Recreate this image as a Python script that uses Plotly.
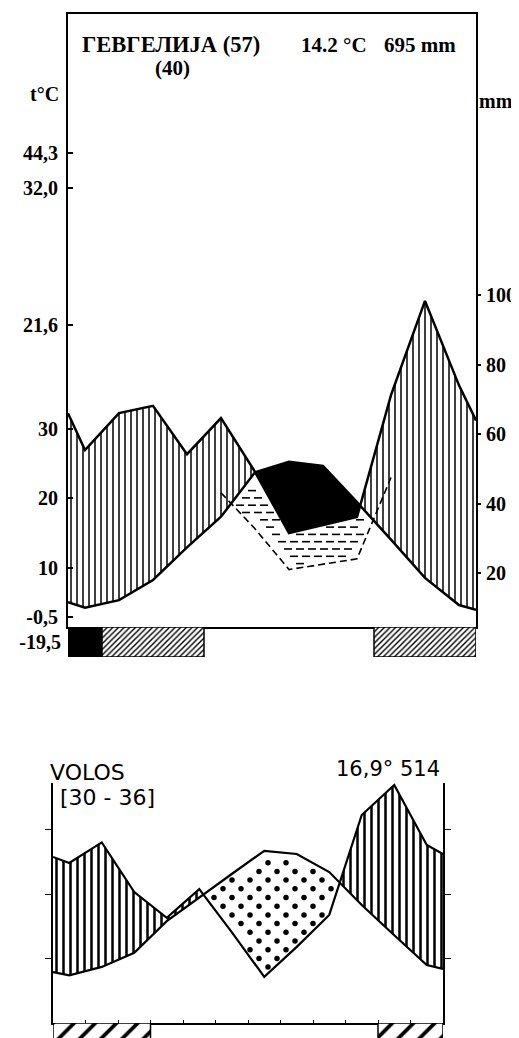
import numpy as np
import plotly.graph_objects as go

# ---------------- data ----------------
# Gevgelija
gev_temp = [4.2, 5.3, 8.2, 12.9, 17.3, 23.7, 25.2, 24.6, 19.4, 14.0, 8.5, 4.6]   # deg C, Jan..Dec
gev_temp_ends = [5.0, 3.9]          # curve value at left / right frame
gev_prec = [55.4, 66.0, 68.1, 54.2, 64.6, 49.1, 31.5, 33.8, 36.1, 71.2, 98.3, 74.0]  # mm
gev_prec_ends = [66.0, 63.9]
gev_frost = [2, 1, 1, 1, 0, 0, 0, 0, 0, 1, 1, 1]   # 2 = absolute frost month, 1 = frost possible
gev_left_labels = ["44,3", "32,0", "21,6", "30", "20", "10", "-0,5"]
gev_strip_label = "-19,5"
gev_right_ticks = [20, 40, 60, 80, 100]
gev_title = "ГЕВГЕЛИЈА (57)"
gev_years = "(40)"
gev_mean_t = "14.2 °C"
gev_sum_p = "695 mm"

# Volos
vol_temp = [7.4, 8.7, 10.9, 15.8, 19.5, 23.1, 26.7, 26.2, 23.4, 18.3, 13.6, 9.0]
vol_temp_ends = [7.9, 8.4]
vol_prec = [49.6, 56.0, 40.6, 32.6, 41.5, 28.2, 14.3, 23.6, 33.5, 64.5, 73.8, 55.2]
vol_prec_ends = [51.5, 52.4]
vol_frost = [1, 1, 1, 0, 0, 0, 0, 0, 0, 0, 1, 1]
vol_t_ticks = [10, 20, 30]
vol_p_ticks = [20, 40, 60]
vol_title = "VOLOS"
vol_years = "[30\u00a0-\u00a036]"
vol_stats = "16,9°\u00a0514"

# ---------------- layout constants (screen pixels) ----------------
OFF = 8                      # page body margin of the browser
PW, PH = 511, 1030           # figure size so that it fits the 519x1038 window
G = dict(x0=68, x1=476, top=14, bottom=627, strip=657,
         t0=637.0, tpx=6.95, p0=642.5, ppx=3.475)
V = dict(x0=53, x1=443, top=783, bottom=1023, strip=1038,
         t0=1023.0, tpx=6.45, p0=1023.0, ppx=3.225)
GEV_LABEL_PX = [153, 188, 325, None, None, None, 617]

SERIF = "Liberation Serif"
SANS = "DejaVu Sans"


def pyp(px):
    return 1 - (px - OFF) / PH


def pxp(px):
    return (px - OFF) / PW


def t_of_px(C, px):
    return (C["t0"] - px) / C["tpx"]


def p_of_px(C, px):
    return (C["p0"] - px) / C["ppx"]


def p_to_t(C, p):
    px = C["p0"] - C["ppx"] * np.asarray(p, float)
    return t_of_px(C, px)


def mw(C):
    return (C["x1"] - C["x0"]) / 12.0


def knots(vals, ends):
    x = [0.0] + [i + 0.5 for i in range(12)] + [12.0]
    y = [ends[0]] + list(vals) + [ends[1]]
    return np.array(x), np.array(y, float)


def merge(xk, a, b):
    xs, ya, yb = [], [], []
    for i in range(len(xk)):
        if i > 0:
            d0 = a[i - 1] - b[i - 1]
            d1 = a[i] - b[i]
            if d0 * d1 < 0:
                f = d0 / (d0 - d1)
                xs.append(xk[i - 1] + f * (xk[i] - xk[i - 1]))
                yc = a[i - 1] + f * (a[i] - a[i - 1])
                ya.append(yc)
                yb.append(yc)
        xs.append(xk[i])
        ya.append(a[i])
        yb.append(b[i])
    return np.array(xs), np.array(ya), np.array(yb)


def runs(codes):
    out, start = [], 0
    for i in range(1, 13):
        if i == 12 or codes[i] != codes[start]:
            if codes[start] != 0:
                out.append((start, i, codes[start]))
            start = i
    return out


fig = go.Figure()
NOH = dict(showlegend=False, hoverinfo="skip")


def add_fill(xs, lower, upper, xa, ya, fillcolor, pattern=None):
    fig.add_trace(go.Scatter(x=xs, y=lower, mode="lines", line=dict(width=0, color="black"),
                             xaxis=xa, yaxis=ya, **NOH))
    kw = dict(fill="tonexty", fillcolor=fillcolor)
    if pattern:
        kw["fillpattern"] = pattern
    fig.add_trace(go.Scatter(x=xs, y=upper, mode="lines", line=dict(width=0, color="black"),
                             xaxis=xa, yaxis=ya, **kw, **NOH))


# ================= Gevgelija =================
xk, gT = knots(gev_temp, gev_temp_ends)
_, gP = knots(gev_prec, gev_prec_ends)
gPT = p_to_t(G, gP)
gP3T = p_to_t(G, gP * 2 / 3)
xs, a, b = merge(xk, gT, gPT)
top = np.maximum(a, b)
# humid (vertical hatching)
add_fill(xs, a, top, "x", "y", "white",
         dict(shape="|", size=6, solidity=0.25, fgcolor="black", bgcolor="white"))
# arid (black)
add_fill(xs, b, top, "x", "y", "black")

# semi-arid dashes between the 1:3 precipitation curve and min(T, P)
dxs, dys = [], []
m = 2.5 / G["tpx"]
for r, ypx in enumerate(np.arange(476, 585, 7.3)):
    off = 6 if r % 2 else 0
    yd = t_of_px(G, ypx)
    for xpx in np.arange(180 + off, 430, 12):
        ok = True
        for dx in (-4, 0, 4):
            xd = (xpx + dx - G["x0"]) / mw(G)
            Tv = np.interp(xd, xk, gT)
            PTv = np.interp(xd, xk, gPT)
            P3v = np.interp(xd, xk, gP3T)
            if not (P3v + m < yd < min(Tv, PTv) - m):
                ok = False
                break
        if ok:
            dxs.append((xpx - G["x0"]) / mw(G))
            dys.append(yd)
fig.add_trace(go.Scatter(x=dxs, y=dys, mode="markers", xaxis="x", yaxis="y",
                         marker=dict(symbol="line-ew", size=5.7, line=dict(width=1.6, color="black")),
                         **NOH))
# 1:3 precipitation curve, dashed (May..Oct)
fig.add_trace(go.Scatter(x=xk[5:11], y=gP[5:11] * 2 / 3, mode="lines", xaxis="x", yaxis="y2",
                         line=dict(color="black", width=1.6, dash="7px,4px"), **NOH))
# curves
fig.add_trace(go.Scatter(x=xk, y=gT, mode="lines", xaxis="x", yaxis="y",
                         line=dict(color="black", width=2.5), **NOH))
fig.add_trace(go.Scatter(x=xk, y=gP, mode="lines", xaxis="x", yaxis="y2",
                         line=dict(color="black", width=2.5), **NOH))

# frost strip
for s, e, c in runs(gev_frost):
    fig.add_trace(go.Bar(x=[(s + e) / 2], y=[1], base=[0], width=[e - s], xaxis="x2", yaxis="y3",
                         marker=dict(color="black" if c == 2 else "white",
                                     pattern=dict(shape="" if c == 2 else "/", size=4, solidity=0.35,
                                                  fgcolor="black", bgcolor="white"),
                                     line=dict(color="black", width=1.5)), **NOH))

# ================= Volos =================
vk, vT = knots(vol_temp, vol_temp_ends)
_, vP = knots(vol_prec, vol_prec_ends)
vPT = p_to_t(V, vP)
vxs, va, vb = merge(vk, vT, vPT)
vtop = np.maximum(va, vb)
add_fill(vxs, va, vtop, "x3", "y4", "white",
         dict(shape="|", size=7, solidity=0.36, fgcolor="black", bgcolor="white"))

# arid dots
ox, oy = [], []
mv = 3.5 / V["tpx"]
for r, ypx in enumerate(np.arange(845.3, 1010, 8.7)):
    off = 0 if r % 2 else 9
    yd = t_of_px(V, ypx)
    for xpx in np.arange(187 + off, 360, 18):
        ok = True
        for dx in (-2.5, 0, 2.5):
            xd = (xpx + dx - V["x0"]) / mw(V)
            Tv = np.interp(xd, vk, vT)
            PTv = np.interp(xd, vk, vPT)
            if not (PTv + mv < yd < Tv - mv):
                ok = False
                break
        if ok:
            ox.append((xpx - V["x0"]) / mw(V))
            oy.append(yd)
fig.add_trace(go.Scatter(x=ox, y=oy, mode="markers", xaxis="x3", yaxis="y4",
                         marker=dict(symbol="circle", size=5.5, color="black", line=dict(width=0)),
                         **NOH))
fig.add_trace(go.Scatter(x=vk, y=vT, mode="lines", xaxis="x3", yaxis="y4",
                         line=dict(color="black", width=2.2), **NOH))
fig.add_trace(go.Scatter(x=vk, y=vP, mode="lines", xaxis="x3", yaxis="y5",
                         line=dict(color="black", width=2.2), **NOH))
for s, e, c in runs(vol_frost):
    fig.add_trace(go.Bar(x=[(s + e) / 2], y=[3], base=[-2], width=[e - s], xaxis="x4", yaxis="y6",
                         marker=dict(color="white",
                                     pattern=dict(shape="/", size=15, solidity=0.25,
                                                  fgcolor="black", bgcolor="white"),
                                     line=dict(color="black", width=1.5)), **NOH))

# ---------------- axes ----------------
tick_font = dict(family=SERIF, size=20, color="black", weight="bold")
gev_tickvals = [t_of_px(G, p) if p is not None else float(l)
                for l, p in zip(gev_left_labels, GEV_LABEL_PX)]
hide = dict(showgrid=False, zeroline=False, automargin=False)

fig.update_layout(
    template="none",
    width=PW, height=PH, margin=dict(l=0, r=0, t=0, b=0, autoexpand=False),
    paper_bgcolor="white", plot_bgcolor="rgba(0,0,0,0)",
    showlegend=False, hovermode=False, barmode="overlay",
    xaxis=dict(domain=[pxp(G["x0"]), pxp(G["x1"])], range=[0, 12], anchor="y",
               showline=True, mirror=True, linecolor="black", linewidth=2,
               showticklabels=False, ticks="", **hide),
    yaxis=dict(domain=[pyp(G["bottom"]), pyp(G["top"])],
               range=[t_of_px(G, G["bottom"]), t_of_px(G, G["top"])], anchor="x",
               showline=True, mirror=True, linecolor="black", linewidth=2,
               tickmode="array", tickvals=gev_tickvals, ticktext=gev_left_labels,
               ticks="inside", ticklen=5, tickwidth=1.5, tickcolor="black",
               ticklabelstandoff=4, tickfont=tick_font, **hide),
    yaxis2=dict(overlaying="y", side="right", anchor="x",
                range=[p_of_px(G, G["bottom"]), p_of_px(G, G["top"])],
                showline=False, tickmode="array", tickvals=gev_right_ticks,
                ticktext=[str(v) for v in gev_right_ticks],
                ticks="outside", ticklen=4, tickwidth=1.5, tickcolor="black",
                ticklabelstandoff=1, tickfont=tick_font, **hide),
    xaxis2=dict(domain=[pxp(G["x0"]), pxp(G["x1"])], range=[0, 12], anchor="y3",
                showline=False, showticklabels=False, ticks="", **hide),
    yaxis3=dict(domain=[pyp(G["strip"]), pyp(G["bottom"])], range=[0, 1], anchor="x2",
                showline=False, tickmode="array", tickvals=[0.5], ticktext=[gev_strip_label],
                ticks="", ticklabelstandoff=6, tickfont=tick_font, **hide),
    xaxis3=dict(domain=[pxp(V["x0"]), pxp(V["x1"])], range=[0, 12], anchor="y4",
                showline=True, linecolor="black", linewidth=1.5,
                tickmode="array", tickvals=list(range(1, 12)), ticks="inside", ticklen=3,
                tickwidth=1, tickcolor="black", showticklabels=False, **hide),
    yaxis4=dict(domain=[pyp(V["bottom"]), pyp(V["top"])],
                range=[t_of_px(V, V["bottom"]), t_of_px(V, V["top"])], anchor="x3",
                showline=True, linecolor="black", linewidth=1.5,
                tickmode="array", tickvals=vol_t_ticks, ticks="outside", ticklen=6,
                tickwidth=1, tickcolor="black", showticklabels=False, **hide),
    yaxis5=dict(overlaying="y4", side="right", anchor="x3",
                range=[p_of_px(V, V["bottom"]), p_of_px(V, V["top"])],
                showline=True, linecolor="black", linewidth=1.5,
                tickmode="array", tickvals=vol_p_ticks, ticks="outside", ticklen=6,
                tickwidth=1, tickcolor="black", showticklabels=False, **hide),
    xaxis4=dict(domain=[pxp(V["x0"]), pxp(V["x1"])], range=[0, 12], anchor="y6",
                showline=False, showticklabels=False, ticks="", **hide),
    yaxis6=dict(domain=[0, pyp(V["bottom"])], range=[0, 1], anchor="x4",
                showline=False, showticklabels=False, ticks="", **hide),
)

# ---------------- texts ----------------
serif_title = dict(family=SERIF, size=22.5, color="black", weight="bold")
serif_big = dict(family=SERIF, size=21, color="black", weight="bold")
sans_big = dict(family=SANS, size=22, color="black")
sans_mid = dict(family=SANS, size=21, color="black")


def ann(text, xpx, ypx, font, xanchor="left"):
    fig.add_annotation(text=text, x=pxp(xpx), y=pyp(ypx), xref="paper", yref="paper",
                       xanchor=xanchor, yanchor="middle", showarrow=False, font=font)


ann(gev_title, 80, 45, serif_title)
ann(gev_years, 172, 68, serif_big, "center")
ann(gev_mean_t, 299, 45, serif_big)
ann(gev_sum_p, 382, 45, serif_big)
ann("t°C", 61, 94, tick_font, "right")
ann("mm", 477, 101, tick_font)

ann(vol_title, 48, 772, sans_big)
ann(vol_years, 58, 797, sans_big)
ann(vol_stats, 334, 769, sans_mid)

fig.write_html("out.html")
